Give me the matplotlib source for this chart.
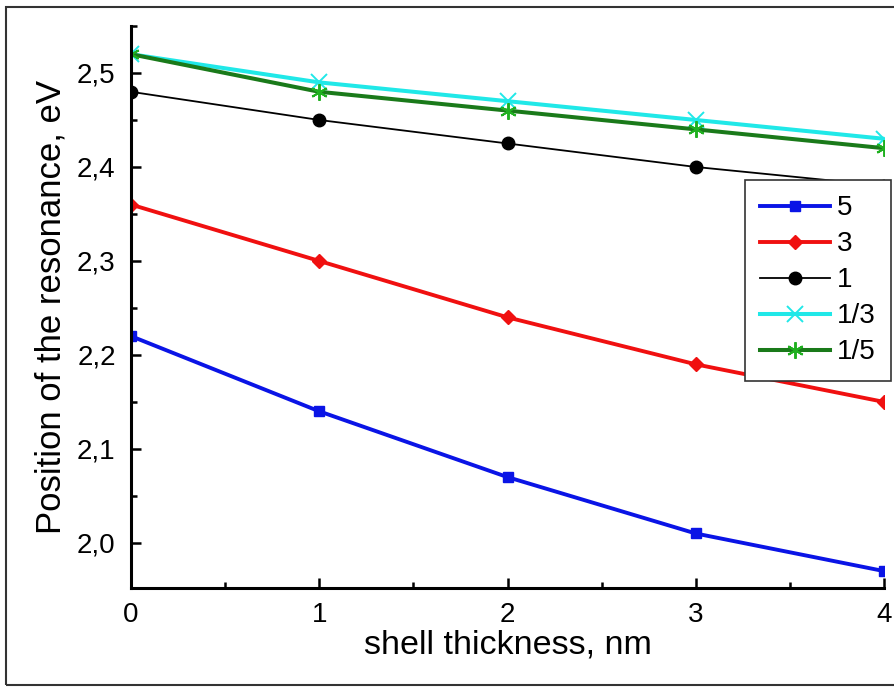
import numpy as np
import matplotlib.pyplot as plt
from matplotlib.patches import Rectangle
from matplotlib.ticker import MultipleLocator, FuncFormatter

plt.rcParams['font.family'] = ['Liberation Sans', 'DejaVu Sans']

# shell thickness, nm
thickness = [0, 1, 2, 3, 4]

# resonance position (eV) for each aspect ratio
res_5 = [2.22, 2.14, 2.07, 2.01, 1.97]
res_3 = [2.36, 2.30, 2.24, 2.19, 2.15]
res_1 = [2.48, 2.45, 2.425, 2.40, 2.38]
res_1_3 = [2.52, 2.49, 2.47, 2.45, 2.43]
res_1_5 = [2.52, 2.48, 2.46, 2.44, 2.42]

labels = ['5', '3', '1', '1/3', '1/5']

fig = plt.figure(figsize=(8.94, 6.87), dpi=100)
ax = fig.add_axes([131/894, 99/687, 753/894, 562/687])

ax.plot(thickness, res_5, color='#0a14e6', lw=2.8, marker='s', ms=7.5, label=labels[0])
ax.plot(thickness, res_3, color='#f01010', lw=2.8, marker='D', ms=7.5, label=labels[1])
ax.plot(thickness, res_1, color='black', lw=1.3, marker='o', ms=9, label=labels[2])
ax.plot(thickness, res_1_3, color='#20e8e8', lw=2.9, marker='x', ms=11, mew=1.4, label=labels[3])
ax.plot(thickness, res_1_5, color='#1a7a1a', lw=2.9, marker=(6, 2, 0), ms=12, mew=1.4,
        mec='#20b020', label=labels[4])

ax.set_xlim(0, 4)
ax.set_ylim(1.952, 2.55)

ax.xaxis.set_major_locator(MultipleLocator(1))
ax.xaxis.set_minor_locator(MultipleLocator(0.5))
ax.yaxis.set_major_locator(MultipleLocator(0.1))
ax.yaxis.set_minor_locator(MultipleLocator(0.05))
ax.yaxis.set_major_formatter(FuncFormatter(lambda v, p: ('%.1f' % v).replace('.', ',')))

ax.tick_params(which='both', direction='in', width=1.8, labelsize=20)
ax.tick_params(which='major', length=7)
ax.tick_params(which='minor', length=4)
ax.tick_params(axis='y', which='major', pad=11)
ax.tick_params(axis='x', which='major', pad=10)

ax.spines['top'].set_visible(False)
ax.spines['right'].set_visible(False)
ax.spines['left'].set_linewidth(2.2)
ax.spines['bottom'].set_linewidth(2.2)

ax.set_xlabel('shell thickness, nm', fontsize=24.5, labelpad=1)
ax.set_ylabel('Position of the resonance, eV', fontsize=25, labelpad=7)

leg = ax.legend(loc='upper left', bbox_to_anchor=(745/894, 1 - 180/687),
                bbox_transform=fig.transFigure, fontsize=20, frameon=True,
                fancybox=False, framealpha=1, borderaxespad=0, handlelength=2.5,
                handletextpad=0.25, labelspacing=0.36, borderpad=0.55)
leg.get_frame().set_edgecolor('#333333')
leg.get_frame().set_linewidth(1.2)

# outer frame around the figure
fig.patches.append(Rectangle((6/894, 2/687), 1.0, 678/687, transform=fig.transFigure,
                             fill=False, edgecolor='#333333', lw=1.5))

fig.savefig('out.png', dpi=100)
